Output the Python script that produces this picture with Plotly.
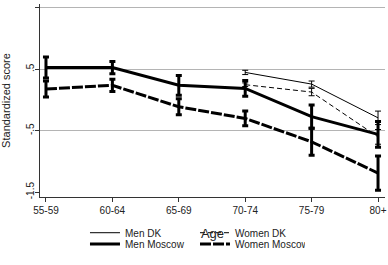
import plotly.graph_objects as go

categories = ["55-59", "60-64", "65-69", "70-74", "75-79", "80+"]
x_idx = [0, 1, 2, 3, 4, 5]

men_moscow = [0.53, 0.53, 0.24, 0.19, -0.27, -0.56]
men_moscow_err = [0.17, 0.10, 0.16, 0.13, 0.19, 0.21]
women_moscow = [0.18, 0.24, -0.11, -0.30, -0.68, -1.19]
women_moscow_err = [0.13, 0.10, 0.13, 0.12, 0.22, 0.28]
men_dk = [None, None, None, 0.45, 0.26, -0.29]
men_dk_err = [None, None, None, 0.035, 0.05, 0.11]
women_dk = [None, None, None, 0.25, 0.13, -0.60]
women_dk_err = [None, None, None, 0.03, 0.06, 0.12]

y_ticks = [1.5, 0.5, -0.5, -1.5]
y_tick_text = ["1.5", ".5", "-.5", "-1.5"]
grid_vals = [1.5, 0.5, -0.5]

FONT = "Liberation Sans, Arial, sans-serif"
TXT = "#222222"

fig = go.Figure()

def add(name, y, err, width, dash, legend, thick):
    fig.add_trace(go.Scatter(
        x=x_idx, y=y, name=name, mode="lines",
        line=dict(color="black", width=width, dash=dash),
        error_y=dict(type="data", array=err, visible=True, color="black",
                     thickness=3 if thick else 1, width=3),
        legend=legend, connectgaps=False, cliponaxis=False,
    ))

add("Men DK", men_dk, men_dk_err, 1, "solid", "legend", False)
add("Women DK", women_dk, women_dk_err, 1, "5px,3px", "legend", False)
add("Men Moscow", men_moscow, men_moscow_err, 3, "solid", "legend2", True)
add("Women Moscow", women_moscow, women_moscow_err, 3, "11px,2px", "legend2", True)

# invisible trace on an overlay axis that only draws the gridlines
fig.add_trace(go.Scatter(x=[None], y=[None], yaxis="y2", showlegend=False,
                         hoverinfo="skip"))

yr = [-1.58, 1.565]
fig.update_layout(
    width=388, height=265,
    margin=dict(l=40, r=3, t=4, b=68, autoexpand=False),
    paper_bgcolor="white", plot_bgcolor="white",
    font=dict(family=FONT, size=10, color=TXT),
    xaxis=dict(
        range=[-0.09, 5.105], tickvals=x_idx, ticktext=categories,
        showgrid=False, zeroline=False, showline=True, linecolor="#333",
        linewidth=1, ticks="outside", ticklen=4, tickcolor="#333",
        tickfont=dict(size=10, color=TXT), automargin=True,
        title=dict(text="Age", font=dict(size=13, color=TXT), standoff=13),
    ),
    yaxis=dict(
        range=yr, tickvals=y_ticks, ticktext=y_tick_text, tickangle=-90,
        showgrid=False, zeroline=False, showline=True, linecolor="#333",
        linewidth=1, ticks="outside", ticklen=4, tickcolor="#333",
        tickfont=dict(size=10, color=TXT), automargin=False,
        ticklabelstandoff=-3,
        title=dict(text="Standardized score", font=dict(size=11, color=TXT)),
    ),
    yaxis2=dict(
        range=yr, overlaying="y", tickvals=grid_vals, showticklabels=False,
        showgrid=True, gridcolor="#b4b4b4", gridwidth=1, zeroline=False,
        showline=False, layer="below traces",
    ),
    legend=dict(
        orientation="h", x=0.1304, y=-0.185, xanchor="left", yanchor="middle",
        entrywidth=65, entrywidthmode="pixels",
        font=dict(size=10, color=TXT), bgcolor="rgba(0,0,0,0)",
        traceorder="normal",
    ),
    legend2=dict(
        orientation="h", x=0.1304, y=-0.243, xanchor="left", yanchor="middle",
        entrywidth=65, entrywidthmode="pixels",
        font=dict(size=10, color=TXT), bgcolor="rgba(0,0,0,0)",
        traceorder="normal",
    ),
)

fig.write_html("out.html", config={"displayModeBar": False},
               post_script="document.body.style.margin='0';document.body.style.overflow='hidden';")
